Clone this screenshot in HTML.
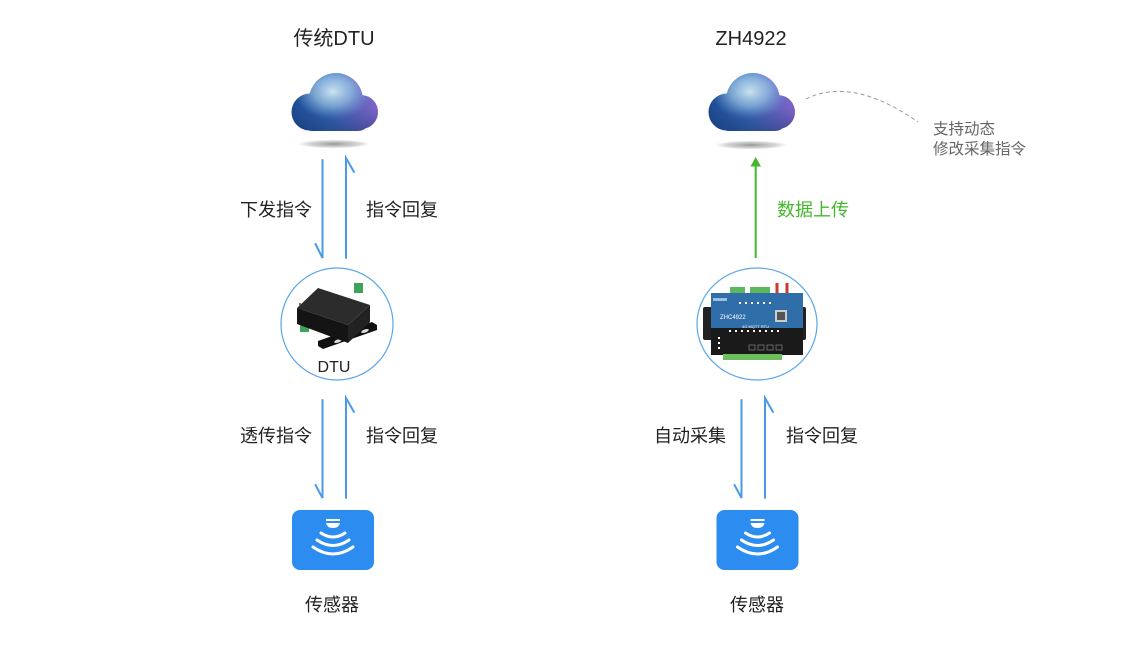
<!DOCTYPE html>
<html><head><meta charset="utf-8">
<style>
html,body{margin:0;padding:0;background:#fff;}
svg{display:block;}
text{font-family:"Liberation Sans","Noto Sans CJK SC",sans-serif;}
</style></head>
<body>
<svg width="1140" height="648" viewBox="0 0 1140 648" xmlns="http://www.w3.org/2000/svg">
<defs>
  <linearGradient id="cbase" x1="0" y1="0" x2="1" y2="0">
    <stop offset="0" stop-color="#1d4c94"/>
    <stop offset="0.45" stop-color="#3a6cbc"/>
    <stop offset="1" stop-color="#9a6ad6"/>
  </linearGradient>
  <radialGradient id="chl" cx="0.5" cy="0.5" r="0.5">
    <stop offset="0" stop-color="#dff3fc" stop-opacity="1"/>
    <stop offset="0.5" stop-color="#a8d4f0" stop-opacity="0.7"/>
    <stop offset="1" stop-color="#7fb6e6" stop-opacity="0"/>
  </radialGradient>
  <linearGradient id="cdark" x1="0" y1="0" x2="0" y2="1">
    <stop offset="0" stop-color="#10306a" stop-opacity="0"/>
    <stop offset="0.6" stop-color="#10306a" stop-opacity="0.15"/>
    <stop offset="1" stop-color="#10306a" stop-opacity="0.55"/>
  </linearGradient>
  <radialGradient id="shadow" cx="0.5" cy="0.5" r="0.5">
    <stop offset="0" stop-color="#8a8a8a" stop-opacity="0.9"/>
    <stop offset="0.7" stop-color="#b0b0b0" stop-opacity="0.5"/>
    <stop offset="1" stop-color="#cccccc" stop-opacity="0"/>
  </radialGradient>
  <clipPath id="cloudL">
    <circle cx="310" cy="112" r="18.5"/>
    <circle cx="336" cy="100" r="27"/>
    <circle cx="361" cy="112" r="17"/>
    <rect x="300" y="100" width="70" height="31" rx="12"/>
  </clipPath>
  <clipPath id="cloudR">
    <circle cx="727" cy="112" r="18.5"/>
    <circle cx="753" cy="100" r="27"/>
    <circle cx="778" cy="112" r="17"/>
    <rect x="717" y="100" width="70" height="31" rx="12"/>
  </clipPath>
</defs>

<!-- Titles -->
<text x="334" y="45" font-size="20" text-anchor="middle" fill="#222">传统DTU</text>
<text x="751" y="45" font-size="20" text-anchor="middle" fill="#222">ZH4922</text>

<!-- Left cloud -->
<ellipse cx="334" cy="144" rx="37" ry="4.5" fill="url(#shadow)"/>
<g clip-path="url(#cloudL)">
  <rect x="288" y="70" width="94" height="64" fill="url(#cbase)"/>
  <ellipse cx="333" cy="92" rx="38" ry="28" fill="url(#chl)"/>
  <rect x="288" y="70" width="94" height="64" fill="url(#cdark)"/>
</g>
<!-- Right cloud -->
<ellipse cx="751" cy="145" rx="37" ry="4.5" fill="url(#shadow)"/>
<g clip-path="url(#cloudR)">
  <rect x="705" y="70" width="94" height="64" fill="url(#cbase)"/>
  <ellipse cx="750" cy="92" rx="38" ry="28" fill="url(#chl)"/>
  <rect x="705" y="70" width="94" height="64" fill="url(#cdark)"/>
</g>

<!-- Dashed curve -->
<path d="M806,99 Q852,76 918,122" fill="none" stroke="#999" stroke-width="1" stroke-dasharray="4,3"/>
<text x="933" y="134" font-size="15.5" fill="#666">支持动态</text>
<text x="933" y="154" font-size="15.5" fill="#666">修改采集指令</text>

<!-- Blue arrows -->
<g stroke="#4a9be6" stroke-width="2" fill="none" stroke-linecap="round">
  <path d="M322.5,160 L322.5,258 L315.5,244"/>
  <path d="M346,258 L346,158 L354,172"/>
  <path d="M322.5,400 L322.5,498 L315.5,485"/>
  <path d="M346,498 L346,398 L354,412"/>
  <path d="M741.5,400 L741.5,498 L734.5,485"/>
  <path d="M765,498 L765,398 L773,412"/>
</g>
<!-- Green arrow -->
<line x1="755.7" y1="165" x2="755.7" y2="258" stroke="#43b82c" stroke-width="2"/>
<polygon points="755.7,157 750.5,166.5 761,166.5" fill="#43b82c"/>

<!-- Labels -->
<text x="276" y="216" font-size="18" text-anchor="middle" fill="#222">下发指令</text>
<text x="402" y="216" font-size="18" text-anchor="middle" fill="#222">指令回复</text>
<text x="813" y="216" font-size="18" text-anchor="middle" fill="#43b82c">数据上传</text>
<text x="276" y="442" font-size="18" text-anchor="middle" fill="#222">透传指令</text>
<text x="402" y="442" font-size="18" text-anchor="middle" fill="#222">指令回复</text>
<text x="690" y="442" font-size="18" text-anchor="middle" fill="#222">自动采集</text>
<text x="822" y="442" font-size="18" text-anchor="middle" fill="#222">指令回复</text>

<!-- DTU circle -->
<circle cx="337" cy="324" r="56" fill="#fff" stroke="#5aa6ea" stroke-width="1.2"/>
<!-- DTU device -->
<g>
  <rect x="354" y="283" width="9" height="10" fill="#3fa45a"/>
  <rect x="300" y="320" width="9" height="12" fill="#3fa45a"/>
  <line x1="300" y1="303" x2="301" y2="318" stroke="#8a6a3a" stroke-width="2"/>
  <polygon points="318,341 372,322 377,325 377,330 323,349 318,346" fill="#111"/>
  <ellipse cx="338" cy="341" rx="4" ry="1.6" fill="#ddd" transform="rotate(-20 338 341)"/>
  <ellipse cx="365" cy="331" rx="4" ry="1.6" fill="#ddd" transform="rotate(-20 365 331)"/>
  <polygon points="297,308 348,325 348,343 297,324" fill="#141414"/>
  <polygon points="348,325 370,305 370,322 348,343" fill="#222"/>
  <polygon points="297,308 318,288 370,305 348,325" fill="#2c2c2c"/>
</g>
<text x="334" y="372" font-size="16" text-anchor="middle" fill="#222">DTU</text>

<!-- ZH4922 circle -->
<ellipse cx="757" cy="324" rx="60" ry="56" fill="#fff" stroke="#5aa6ea" stroke-width="1.2"/>
<!-- ZH4922 device -->
<g>
  <rect x="730" y="287" width="15" height="7" fill="#5cb85c"/>
  <rect x="750" y="287" width="20" height="7" fill="#5cb85c"/>
  <rect x="775.5" y="283" width="3" height="11" fill="#cc3a2a"/>
  <rect x="785.5" y="283" width="3" height="11" fill="#cc3a2a"/>
  <rect x="703" y="307" width="10" height="33" rx="2" fill="#222"/>
  <rect x="797" y="307" width="9" height="33" rx="2" fill="#222"/>
  <rect x="711" y="293" width="92" height="35" fill="#2f6ea8"/>
  <rect x="711" y="328" width="92" height="27" fill="#1a1a1a"/>
  <rect x="723" y="354" width="59" height="6" fill="#6cbf5c"/>
  <rect x="775" y="310" width="12" height="12" fill="#ccc"/>
  <rect x="777" y="312" width="8" height="8" fill="#555"/>
  <g fill="#fff">
    <rect x="739" y="302" width="2" height="2"/><rect x="745" y="302" width="2" height="2"/>
    <rect x="751" y="302" width="2" height="2"/><rect x="757" y="302" width="2" height="2"/>
    <rect x="763" y="302" width="2" height="2"/><rect x="769" y="302" width="2" height="2"/>
    <rect x="729" y="330" width="2" height="2"/><rect x="735" y="330" width="2" height="2"/>
    <rect x="741" y="330" width="2" height="2"/><rect x="747" y="330" width="2" height="2"/>
    <rect x="753" y="330" width="2" height="2"/><rect x="759" y="330" width="2" height="2"/>
    <rect x="765" y="330" width="2" height="2"/><rect x="771" y="330" width="2" height="2"/>
    <rect x="777" y="330" width="2" height="2"/>
    <rect x="718" y="337" width="2" height="2"/><rect x="718" y="342" width="2" height="2"/>
    <rect x="718" y="347" width="2" height="2"/>
  </g>
  <rect x="713" y="298" width="14" height="3" fill="#9cc0e0"/>
  <text x="720" y="319" font-size="6" fill="#fff">ZHC4922</text>
  <text x="742" y="328" font-size="4" fill="#fff">4G MQTT RTU</text>
  <g fill="none" stroke="#777" stroke-width="0.8">
    <rect x="749" y="345" width="6" height="5"/><rect x="758" y="345" width="6" height="5"/>
    <rect x="767" y="345" width="6" height="5"/><rect x="776" y="345" width="6" height="5"/>
  </g>
</g>

<!-- Sensors -->
<g>
  <rect x="292" y="510" width="82" height="60" rx="8" fill="#2d8cf0"/>
  <rect x="326" y="519" width="14" height="2" fill="#fff"/>
  <path d="M326,523 L340,523 Q339,528 333,528 Q327,528 326,523 Z" fill="#fff"/>
  <g stroke="#fff" stroke-width="3" fill="none" stroke-linecap="round">
    <path d="M321,533 Q333,541 345,533"/>
    <path d="M317,540 Q333,551 349,540"/>
    <path d="M313,547 Q333,561 353,547"/>
  </g>
</g>
<g>
  <rect x="716.5" y="510" width="82" height="60" rx="8" fill="#2d8cf0"/>
  <rect x="750.5" y="519" width="14" height="2" fill="#fff"/>
  <path d="M750.5,523 L764.5,523 Q763.5,528 757.5,528 Q751.5,528 750.5,523 Z" fill="#fff"/>
  <g stroke="#fff" stroke-width="3" fill="none" stroke-linecap="round">
    <path d="M745.5,533 Q757.5,541 769.5,533"/>
    <path d="M741.5,540 Q757.5,551 773.5,540"/>
    <path d="M737.5,547 Q757.5,561 777.5,547"/>
  </g>
</g>
<text x="332" y="611" font-size="18" text-anchor="middle" fill="#222">传感器</text>
<text x="757" y="611" font-size="18" text-anchor="middle" fill="#222">传感器</text>
</svg>
</body></html>
